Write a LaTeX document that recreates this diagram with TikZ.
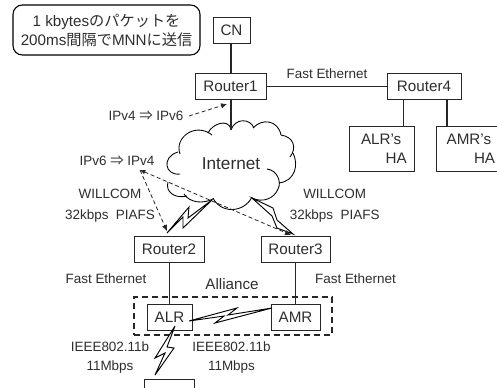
\documentclass[tikz,border=0pt]{standalone}
\usepackage{fontspec}
\setmainfont{Liberation Sans}
\newfontfamily\cjk{Noto Sans CJK JP}
\usetikzlibrary{arrows.meta}
\definecolor{ink}{gray}{0.18}
\tikzset{
  x=0.75pt,y=-0.75pt,
  big/.style={font=\fontsize{11.4}{14.25}\selectfont,text=ink},
  small/.style={font=\fontsize{10.1}{12}\selectfont,text=ink,inner sep=0pt},
  boxnode/.style={draw=black!85,line width=0.75pt,big,inner sep=0pt,minimum width=#1*0.75pt,minimum height=19.5pt,fill=white},
  boxnode/.default=70,
  link/.style={draw=black!85,line width=1pt},
  tunnel/.style={draw=black!85,line width=0.6pt,dash pattern=on 3pt off 2pt},
  tip/.style={-{Latex[length=4.5pt,width=4pt]}},
  bothtips/.style={{Latex[length=4pt,width=3.5pt]}-{Latex[length=4.5pt,width=4pt]}},
  bolt/.style={draw=black,line width=0.7pt,fill=white,line join=miter},
  cloudline/.style={draw=black,line width=0.65pt},
  group/.style={draw=black!85,line width=0.95pt,dash pattern=on 4.5pt off 3pt},
}
\begin{document}
\begin{tikzpicture}
\clip (0,0) rectangle (497,387);
\fill[white] (0,0) rectangle (497,387);
% note
\node[draw=black,line width=0.8pt,rounded corners=7pt,big,align=center,inner sep=0pt,minimum width=140.25pt,minimum height=37.5pt] (note) at (106.5,30) {1 kbytes{\cjk のパケットを}\\200ms{\cjk 間隔で}MNN{\cjk に送信}};
% boxes
\node[boxnode=37] (cn) at (231.5,30) {CN};
\node[boxnode=71] (r1) at (230.5,86.5) {Router1};
\node[boxnode=74] (r4) at (424,86.5) {Router4};
\node[boxnode=70] (r2) at (169,249) {Router2};
\node[boxnode=69] (r3) at (295.5,249) {Router3};
\node[boxnode=45] (alr) at (169.5,317) {ALR};
\node[boxnode=49] (amr) at (295.5,317) {AMR};
\node[boxnode=50,anchor=north,minimum height=27pt] (mnn) at (169,379) {MNN};
\node[draw=black!85,line width=0.75pt,big,inner sep=0pt,minimum width=48.75pt,minimum height=33.75pt,text width=48.75pt,align=left] (ahome) at (381.5,148.5) {\hspace*{9pt}ALR's\\\hspace*{27.5pt}HA};
\node[draw=black!85,line width=0.75pt,big,inner sep=0pt,minimum width=52.5pt,minimum height=33.75pt,text width=52.5pt,align=left] (mhome) at (471,148.5) {\hspace*{8pt}AMR's\\\hspace*{28.5pt}HA};
% dashed alliance group
\node[group,minimum width=148.5pt,minimum height=28.5pt,inner sep=0pt] (alliance) at (233,316) {};
% cloud
\path[fill=white] (231,129) .. controls (235,118) and (250,118) .. (254,128)
  .. controls (262,118) and (278,120) .. (281,135)
  .. controls (294,137) and (297,148) .. (290,157)
  .. controls (299,165) and (295,181) .. (279,183)
  .. controls (280,197) and (262,205) .. (252,198)
  .. controls (244,213) and (221,214) .. (213,198)
  .. controls (203,204) and (190,203) .. (184,194)
  .. controls (175,199) and (165,192) .. (168,182)
  .. controls (172,178) and (175,176) .. (180,174)
  .. controls (165,176) and (161,157) .. (178,152)
  .. controls (174,137) and (196,122) .. (208,134)
  .. controls (212,124) and (228,118) .. (231,129) -- cycle;
\draw[cloudline] (231,130) .. controls (235,118) and (250,118) .. (254,128);
\draw[cloudline] (253,128) .. controls (262,118) and (278,120) .. (281,135) .. controls (294,137) and (297,148) .. (290,157);
\draw[cloudline] (293,153) .. controls (299,165) and (295,181) .. (279,183);
\draw[cloudline] (267,169) .. controls (277,170) and (282,182) .. (278,189) .. controls (274,199) and (262,203) .. (252,198);
\draw[cloudline] (252,197) .. controls (244,213) and (221,214) .. (213,198);
\draw[cloudline] (213,199) .. controls (203,204) and (190,203) .. (184,194);
\draw[cloudline] (187,196) .. controls (175,199) and (165,192) .. (168,182);
\draw[cloudline] (180,174) .. controls (165,176) and (161,157) .. (178,152);
\draw[cloudline] (180,154) .. controls (174,137) and (196,122) .. (212,135);
\draw[cloudline] (208,133) .. controls (212,124) and (228,118) .. (231,129);
\node[font=\fontsize{12.9}{15}\selectfont,text=ink,inner sep=0pt] (inet) at (231,164) {Internet};
\coordinate (cloudtop) at (231,130);
% links
\draw[link] (cn.south -| 231,0) -- (r1.north -| 231,0);
\draw[link] (r1.south -| cloudtop) -- (cloudtop);
\draw[link] (r1) -- (r4);
\draw[link] (r4.south -| 403.7,0) -- (ahome.north -| 403.7,0);
\draw[link] (r4.south -| 447,0) -- (mhome.north -| 447,0);
\draw[link] (r2.south -| alr) -- (alr.north);
\draw[link] (r3.south -| amr) -- (amr.north);
% bolts
\draw[bolt] (212,200) -- (183,228) -- (183,217) -- (167,233) -- (189,207) -- (188,218) -- cycle;
\draw[bolt] (252,198) -- (273,208) -- (277,220) -- (293,234) -- (277,228) -- (272,216) -- cycle;
\draw[bolt] (189,321) -- (237,308) -- (228,315) -- (272,308) -- (215,323) -- (224,316) -- cycle;
\draw[bolt] (175,326) -- (155,358) -- (165,353) -- (155,375) -- (174,348) -- (167,347) -- cycle;
% tunnels
\node[small] (v46) at (146,116) {IPv4 {\cjk ⇒} IPv6};
\node[small] (v64) at (117,161) {IPv6 {\cjk ⇒} IPv4};
\coordinate (v64o) at (140,170);
\coordinate (r1tip) at (227,104);
\coordinate (r2tip) at (167,231);
\coordinate (r3tip) at (291,235);
\draw[tunnel,tip] (189,116) -- (r1tip);
\draw[tunnel,tip] (v64o) -- (r2tip);
\draw[tunnel,bothtips] (v64o) -- (r3tip);
% labels
\node[small] (fe0) at (327,74) {Fast Ethernet};
\node[small,align=center,font=\fontsize{10.1}{16}\selectfont] (wl) at (110,206) {WILLCOM\\32kbps\ \ PIAFS};
\node[small,align=center,font=\fontsize{10.1}{16}\selectfont] (wr) at (334.7,206) {WILLCOM\\32kbps\ \ PIAFS};
\node[small] (fel) at (106,279) {Fast Ethernet};
\node[small] (fer) at (355.5,279) {Fast Ethernet};
\node[big,inner sep=0pt] (all) at (232,284) {Alliance};
\node[small,align=center,font=\fontsize{10.1}{14.25}\selectfont] (il) at (110,357.5) {IEEE802.11b\\11Mbps};
\node[small,align=center,font=\fontsize{10.1}{14.25}\selectfont] (ir) at (231.5,357.5) {IEEE802.11b\\11Mbps};
\end{tikzpicture}
\end{document}
